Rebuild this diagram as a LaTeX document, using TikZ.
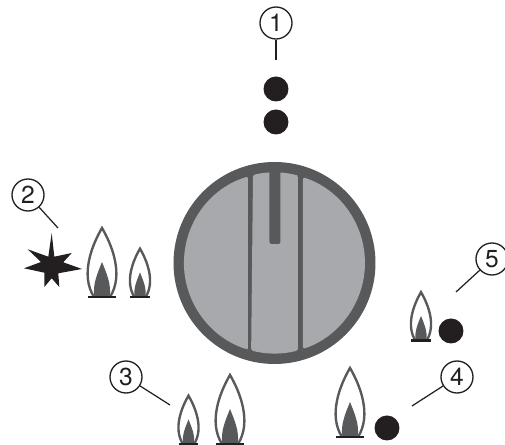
\documentclass[tikz,border=0pt]{standalone}
\usepackage{fontspec}
\setmainfont{TeX Gyre Heros}
\usepackage{xcolor}
\definecolor{knobdark}{HTML}{58595B}
\definecolor{knobgray}{HTML}{A7A9AC}
\definecolor{dotblack}{HTML}{231F20}
\tikzset{
    callout/.style={circle, draw=dotblack, line width=0.75pt, fill=white, minimum size=0.64cm, inner sep=0pt, font=\fontsize{14}{16}\selectfont, text=dotblack},
    leader/.style={draw=dotblack, line width=0.7pt},
    gasdot/.style={circle, fill=dotblack, minimum size=0.5cm, inner sep=0pt},
    segment/.style={fill=knobgray, rounded corners=1.2pt},
    pics/flame/.style={code={
        \fill[knobdark] (-7.5,0) .. controls (-10,-12) and (-4,-25) .. (0,-35) .. controls (4,-25) and (10,-12) .. (7.5,0) -- cycle;
        \draw[knobdark, line width=1.35pt] (-8,0) .. controls (-22,-22) and (-10,-52) .. (0,-69) .. controls (10,-52) and (22,-22) .. (8,0);
        \draw[dotblack, line width=1.3pt] (-14,0) -- (14,0);
    }}
}
\begin{document}
\begin{tikzpicture}[x=0.02cm, y=-0.02cm]
    \useasboundingbox (0,0) rectangle (505,445);
    % Knob
    \coordinate (knob) at (274.5,263);
    \fill[knobdark] (knob) circle (101);
    \begin{scope}[shift={(knob)}]
        \fill[segment] (-26.5,-86.5) arc[start angle=-107, end angle=-253, radius=90.5] -- (-26.5,86.5) -- cycle;
        \fill[segment] (28.5,-85.8) arc[start angle=-71.6, end angle=71.6, radius=90.5] -- (28.5,85.8) -- cycle;
        \fill[segment] (-21.5,-88) arc[start angle=-103.7, end angle=-76.3, radius=90.5] -- (23.5,-87.4) -- (23.5,87.4) arc[start angle=75, end angle=105, radius=90.5] -- cycle;
        % Pointer
        \fill[knobdark, rounded corners=1.2pt] (-5,-95) rectangle (6,-19);
    \end{scope}
    % Off position
    \node[gasdot] (dotA) at (276,89) {};
    \node[gasdot] (dotB) at (276,122) {};
    \node[callout] (one) at (276,23) {1};
    \coordinate (oneEnd) at (276,60);
    \draw[leader] (one) -- (oneEnd);
    % Ignition
    \fill[dotblack] (51.7,233) -- (54.3,256.7) -- (71.7,253) -- (63.3,262.3) -- (82,269) -- (58.3,273.3) -- (59.3,287)
        -- (51.7,278.3) -- (44.3,287) -- (44.3,272.7) -- (24,268.3) -- (41,262) -- (27.7,249.3) -- (48.3,256.7) -- cycle;
    \pic at (102,297) {flame};
    \pic[scale=0.7] at (140,297) {flame};
    \node[callout] (two) at (28,195) {2};
    \coordinate (twoEnd) at (58,228);
    \draw[leader] (two) -- (twoEnd);
    % Small and big flame
    \pic[scale=0.7] at (188.5,444) {flame};
    \pic at (230,444) {flame};
    \node[callout] (three) at (126,377) {3};
    \coordinate (threeEnd) at (170,405);
    \draw[leader] (three) -- (threeEnd);
    % Big flame, single ring
    \pic at (350,437) {flame};
    \node[gasdot] (dotC) at (387,428) {};
    \node[callout] (four) at (457,377) {4};
    \coordinate (fourEnd) at (412,406);
    \draw[leader] (four) -- (fourEnd);
    % Small flame, single ring
    \pic[scale=0.7] at (421,340.5) {flame};
    \node[gasdot] (dotD) at (451,331) {};
    \node[callout] (five) at (492,259) {5};
    \coordinate (fiveEnd) at (456,292);
    \draw[leader] (five) -- (fiveEnd);
\end{tikzpicture}
\end{document}
